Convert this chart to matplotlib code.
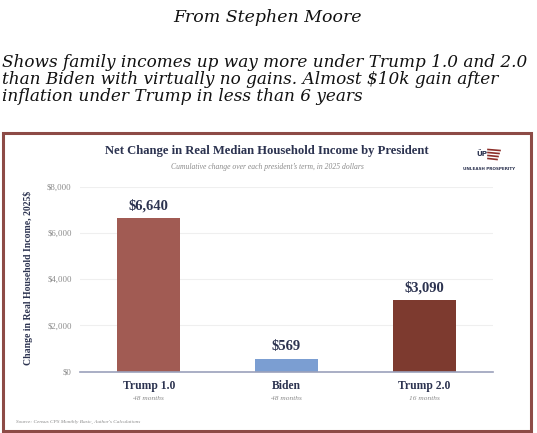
import matplotlib.pyplot as plt
from matplotlib.patches import Rectangle
from matplotlib.lines import Line2D

# data
presidents = ["Trump 1.0", "Biden", "Trump 2.0"]
terms = ["48 months", "48 months", "16 months"]
changes = [6640, 569, 3090]
value_labels = ["$6,640", "$569", "$3,090"]
bar_colors = ["#a15b53", "#7b9ed2", "#7d3a2f"]
yticks = [0, 2000, 4000, 6000, 8000]
ytick_labels = ["$0", "$2,000", "$4,000", "$6,000", "$8,000"]

W, H = 537, 433
NAVY = "#2c3350"
GRAY = "#8a8a8a"
SERIF = "Liberation Serif"


def fx(x):
    return x / W


def fy(y):
    return 1 - y / H


fig = plt.figure(figsize=(W / 100, H / 100), dpi=100)
fig.patch.set_facecolor("white")

# header text above the chart image
fig.text(fx(268), fy(18), "From Stephen Moore", family="DejaVu Serif",
         style="italic", fontsize=12.5, ha="center", va="center", color="#111111")
para = ("Shows family incomes up way more under Trump 1.0 and 2.0\n"
        "than Biden with virtually no gains. Almost $10k gain after\n"
        "inflation under Trump in less than 6 years")
fig.text(fx(2), fy(54), para, family="DejaVu Serif", style="italic",
         fontsize=12.15, ha="left", va="top", color="#111111", linespacing=1.0)

# chart frame
fig.add_artist(Rectangle((fx(2.5), fy(430.5)), fx(528), (430.5 - 132.5) / H,
                         fill=False, edgecolor="#8d4b46", linewidth=2.2,
                         transform=fig.transFigure))

fig.text(fx(267), fy(151), "Net Change in Real Median Household Income by President",
         family=SERIF, weight="bold", fontsize=9.1, ha="center", va="center", color=NAVY)
fig.text(fx(267), fy(167.5), "Cumulative change over each president\u2019s term, in 2025 dollars",
         family=SERIF, style="italic", fontsize=5.5, ha="center", va="center", color=GRAY)

# logo
fig.text(fx(482), fy(153.5), "\u00dcP", family="DejaVu Sans", weight="bold",
         fontsize=5.2, ha="center", va="center", color=NAVY)
for i, yy in enumerate([149.5, 152.5, 155.5, 158.5]):
    fig.add_artist(Line2D([fx(488), fx(500 - i)], [fy(yy), fy(yy + 1)],
                          color="#8d2f2a", linewidth=1.2, transform=fig.transFigure))
fig.text(fx(489.5), fy(169.5), "UNLEASH PROSPERITY", family="DejaVu Sans Condensed",
         weight="bold", fontsize=3.0, ha="center", va="center", color=NAVY)

ax = fig.add_axes([fx(80), fy(371.7), fx(493 - 80), (371.7 - 186.7) / H])
x = range(len(presidents))
ax.bar(x, changes, width=0.46, color=bar_colors, zorder=3)
ax.set_xlim(-0.5, 2.5)
ax.set_ylim(0, 8000)
ax.set_yticks(yticks)
ax.set_yticklabels(ytick_labels, family=SERIF, fontsize=6.3, color=GRAY)
ax.tick_params(axis="y", length=0, pad=6)
ax.tick_params(axis="x", length=0)
ax.set_xticks([])
ax.grid(axis="y", color="#efefef", linewidth=0.8, zorder=0)
ax.set_axisbelow(True)
for side in ["top", "right", "left"]:
    ax.spines[side].set_visible(False)
ax.spines["bottom"].set_color("#9ba1bb")
ax.spines["bottom"].set_linewidth(1.2)
ax.spines["bottom"].set_zorder(4)

for xi, v, lab, name, term in zip(x, changes, value_labels, presidents, terms):
    ax.annotate(lab, (xi, v), xytext=(0, 4), textcoords="offset points",
                ha="center", va="bottom", family=SERIF, weight="bold",
                fontsize=10.5, color=NAVY)
    ax.annotate(name, (xi, 0), xytext=(0, -10), textcoords="offset points",
                ha="center", va="center", family=SERIF, weight="bold",
                fontsize=8.4, color=NAVY)
    ax.annotate(term, (xi, 0), xytext=(0, -19.5), textcoords="offset points",
                ha="center", va="center", family=SERIF, style="italic",
                fontsize=5.3, color=GRAY)

fig.text(fx(28), fy(278), "Change in Real Household Income, 2025$", family=SERIF,
         weight="bold", fontsize=7, rotation=90, ha="center", va="center", color=NAVY)
fig.text(fx(16), fy(422), "Source: Census CPS Monthly Basic, Author's Calculations",
         family=SERIF, style="italic", fontsize=3.8, ha="left", va="center", color=GRAY)

fig.savefig("out.png", dpi=100)
